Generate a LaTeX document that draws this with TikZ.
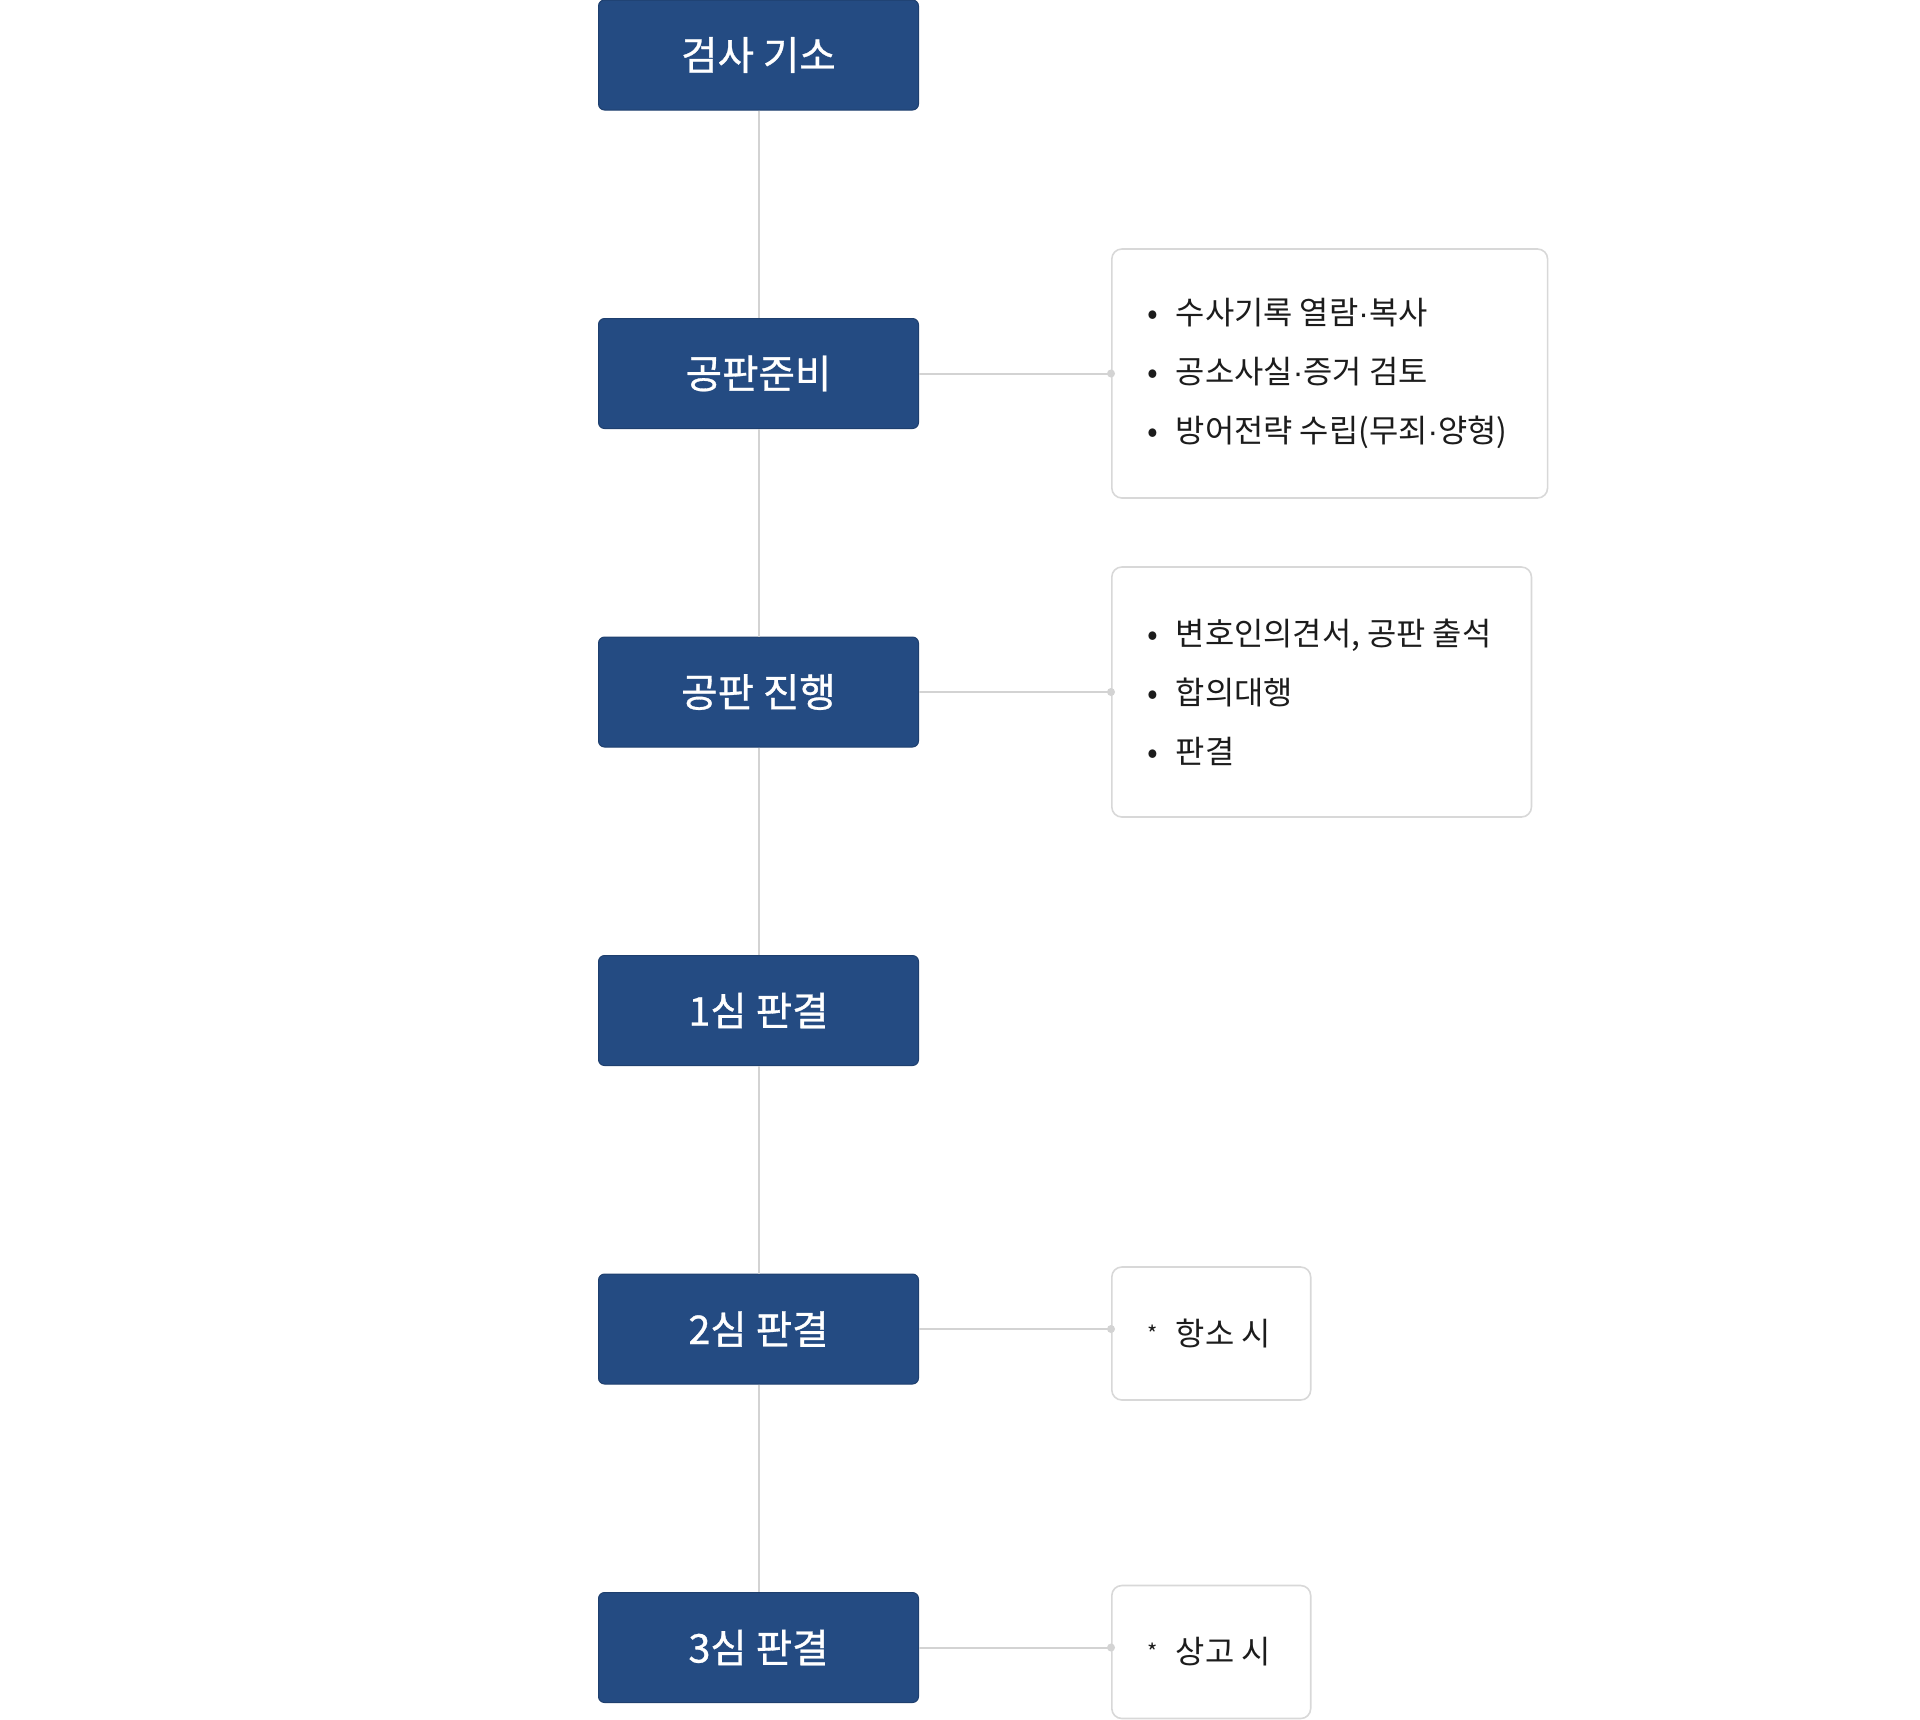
\documentclass[tikz,border=0pt]{standalone}
\usepackage{fontspec}
\setmainfont{Noto Sans CJK KR}
\newfontfamily\stagefont{Noto Sans CJK KR}[FakeBold=0.8]
\newfontfamily\dotfont{Liberation Sans}
\usepackage{xcolor}
\definecolor{stepblue}{HTML}{244B82}
\definecolor{stepedge}{HTML}{1E3F6E}
\definecolor{linkgray}{HTML}{D3D3D3}
\definecolor{notegray}{HTML}{D8D8D8}
\definecolor{notetext}{HTML}{1C1C1C}
\newcommand{\bul}{\hspace*{-2pt}\makebox[14pt][l]{•}}
\newcommand{\mdot}{{\dotfont ·}}
\newcommand{\astmark}{\hspace*{-2pt}\makebox[14pt][l]{\raisebox{1.5pt}{\fontsize{11}{11}\selectfont *}}}

\begin{document}
\begin{tikzpicture}[
    stage/.style={draw=stepedge, fill=stepblue, rounded corners=3pt, line width=0.5pt,
        minimum width=160pt, minimum height=55pt, text=white, font=\stagefont\fontsize{19.8}{22}\selectfont},
    note/.style={draw=notegray, fill=white, rounded corners=5pt, line width=0.8pt, anchor=west,
        align=left, inner xsep=20pt, text=notetext, font=\fontsize{15.9}{29.5}\selectfont},
    link/.style={draw=linkgray, line width=1pt}
]
                \useasboundingbox (0,0) rectangle (960pt,-859.5pt);

                \node[stage] (filing) at (379.25pt,-27.5pt) {검사 기소};
                \node[stage] (prep)   at (379.25pt,-186.75pt) {공판준비};
                \node[stage] (trial)  at (379.25pt,-346pt) {공판 진행};
                \node[stage] (first)  at (379.25pt,-505.25pt) {1심 판결};
                \node[stage] (second) at (379.25pt,-664.5pt) {2심 판결};
                \node[stage] (third)  at (379.25pt,-823.75pt) {3심 판결};

                \draw[link] (filing) -- (prep);
                \draw[link] (prep) -- (trial);
                \draw[link] (trial) -- (first);
                \draw[link] (first) -- (second);
                \draw[link] (second) -- (third);

                \node[note, minimum height=124.5pt] (prepnote) at (555.5pt,-186.75pt)
                    {\bul 수사기록 열람\mdot 복사\\ \bul 공소사실\mdot 증거 검토\\ \bul 방어전략 수립(무죄\mdot 양형)};
                \node[note, minimum height=125pt] (trialnote) at (555.5pt,-346pt)
                    {\bul 변호인의견서, 공판 출석\\ \bul 합의대행\\ \bul 판결};
                \node[note, minimum height=66.5pt] (appealnote) at (555.5pt,-666.75pt) {\astmark 항소 시};
                \node[note, minimum height=66.5pt] (finalnote) at (555.5pt,-826pt) {\astmark 상고 시};

                \draw[link] (prep.east) -- (prepnote.west);
                \draw[link] (trial.east) -- (trialnote.west);
                \draw[link] (second.east) -- (second.east -| appealnote.west);
                \draw[link] (third.east) -- (third.east -| finalnote.west);

                \fill[linkgray] (prepnote.west) circle (2pt);
                \fill[linkgray] (trialnote.west) circle (2pt);
                \fill[linkgray] (second.east -| appealnote.west) circle (2pt);
                \fill[linkgray] (third.east -| finalnote.west) circle (2pt);
\end{tikzpicture}
\end{document}
